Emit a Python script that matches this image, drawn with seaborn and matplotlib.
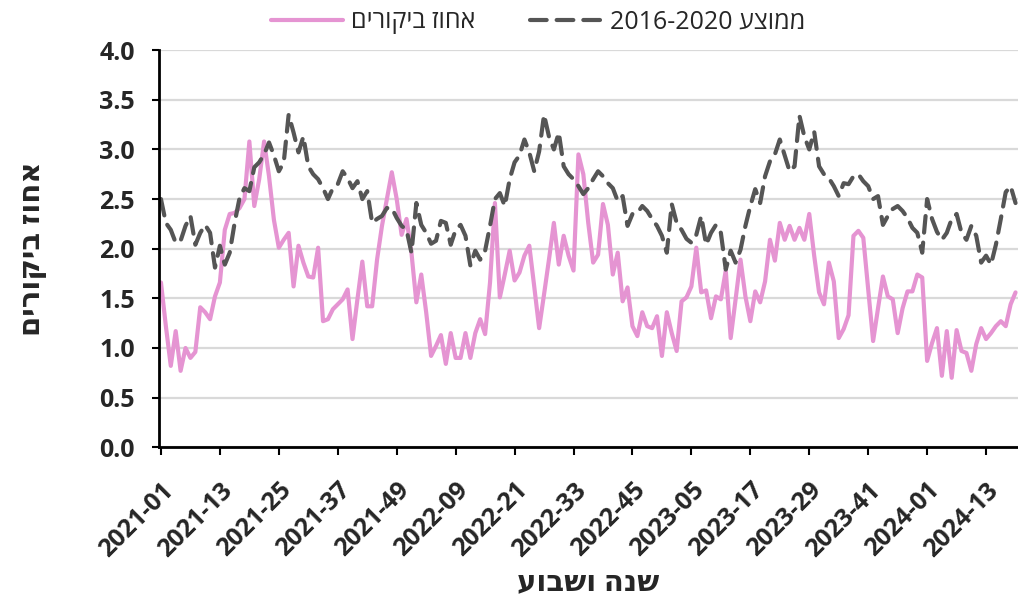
import matplotlib.pyplot as plt
import matplotlib.transforms as mtransforms
import pandas as pd
import seaborn as sns


def rtl(s):
    # matplotlib has no bidi support: flip word order and Hebrew words
    words = s.split()[::-1]
    return " ".join(w[::-1] if any("\u0590" <= c <= "\u05ff" for c in w) else w for w in words)


# weeks 2021-01 .. 2024-19
years = [2021, 2022, 2023, 2024]
weeks_in_year = [52, 52, 52, 19]
week_labels = [f"{y}-{w:02d}" for y, n in zip(years, weeks_in_year) for w in range(1, n + 1)]

tick_labels = ["2021-01", "2021-13", "2021-25", "2021-37", "2021-49", "2022-09", "2022-21",
               "2022-33", "2022-45", "2023-05", "2023-17", "2023-29", "2023-41", "2024-01", "2024-13"]

visits = [
    1.66, 1.22, 0.82, 1.17, 0.77, 1.00, 0.90, 0.96, 1.41, 1.36, 1.29, 1.52,
    1.66, 2.19, 2.35, 2.36, 2.41, 2.50, 3.08, 2.43, 2.70, 3.08, 2.73, 2.29,
    2.01, 2.09, 2.16, 1.62, 2.03, 1.86, 1.72, 1.71, 2.01, 1.27, 1.29, 1.39,
    1.44, 1.49, 1.59, 1.09, 1.49, 1.87, 1.42, 1.42, 1.89, 2.23, 2.50, 2.77,
    2.50, 2.14, 2.30, 1.96, 1.46, 1.74, 1.36, 0.92, 1.02, 1.13, 0.84, 1.15,
    0.90, 0.90, 1.15, 0.90, 1.15, 1.29, 1.14, 1.66, 2.46, 1.51, 1.74, 1.98,
    1.68, 1.76, 1.93, 2.03, 1.62, 1.20, 1.54, 1.89, 2.26, 1.84, 2.13, 1.93,
    1.78, 2.95, 2.75, 2.26, 1.86, 1.94, 2.45, 2.24, 1.74, 1.96, 1.47, 1.61,
    1.22, 1.12, 1.36, 1.22, 1.20, 1.32, 0.92, 1.36, 1.15, 0.97, 1.47, 1.51,
    1.62, 2.01, 1.56, 1.58, 1.30, 1.52, 1.49, 1.78, 1.10, 1.49, 1.89, 1.52,
    1.27, 1.57, 1.46, 1.67, 2.09, 1.88, 2.26, 2.09, 2.23, 2.09, 2.21, 2.09,
    2.35, 1.93, 1.56, 1.44, 1.86, 1.67, 1.10, 1.19, 1.33, 2.13, 2.18, 2.11,
    1.59, 1.07, 1.40, 1.72, 1.52, 1.49, 1.15, 1.40, 1.57, 1.57, 1.74, 1.71,
    0.87, 1.05, 1.20, 0.72, 1.17, 0.70, 1.18, 0.97, 0.95, 0.77, 1.04, 1.20,
    1.09, 1.15, 1.22, 1.27, 1.22, 1.44, 1.56,
]

avg_2016_2020 = [
    2.50, 2.26, 2.19, 2.06, 2.08, 2.23, 2.33, 2.04, 2.16, 2.24, 2.16, 1.81,
    2.03, 1.84, 1.96, 2.26, 2.51, 2.61, 2.58, 2.82, 2.87, 2.95, 3.07, 2.94,
    2.78, 2.87, 3.35, 3.17, 2.97, 3.13, 2.83, 2.75, 2.70, 2.61, 2.50, 2.61,
    2.65, 2.78, 2.71, 2.61, 2.68, 2.50, 2.58, 2.26, 2.30, 2.33, 2.41, 2.41,
    2.31, 2.23, 2.19, 1.96, 2.46, 2.24, 2.16, 2.05, 2.08, 2.28, 2.26, 2.04,
    2.19, 2.24, 2.13, 1.83, 1.98, 1.89, 1.98, 2.23, 2.50, 2.56, 2.43, 2.70,
    2.87, 2.94, 3.10, 2.97, 2.78, 2.98, 3.35, 3.13, 3.00, 3.17, 2.83, 2.75,
    2.70, 2.63, 2.55, 2.61, 2.70, 2.78, 2.73, 2.66, 2.61, 2.48, 2.53, 2.23,
    2.35, 2.36, 2.43, 2.38, 2.30, 2.23, 2.13, 1.96, 2.45, 2.26, 2.19, 2.10,
    2.06, 2.14, 2.33, 2.04, 2.16, 2.24, 2.16, 1.79, 1.98, 1.86, 1.99, 2.23,
    2.43, 2.60, 2.46, 2.73, 2.88, 2.95, 3.10, 2.94, 2.78, 2.83, 3.34, 3.13,
    3.00, 3.18, 2.83, 2.75, 2.71, 2.63, 2.53, 2.66, 2.65, 2.73, 2.75, 2.68,
    2.63, 2.50, 2.53, 2.24, 2.33, 2.40, 2.43, 2.38, 2.31, 2.21, 2.16, 1.96,
    2.50, 2.30, 2.17, 2.09, 2.16, 2.30, 2.35, 2.16, 2.09, 2.23, 2.13, 1.86,
    1.93, 1.84, 2.04, 2.30, 2.57, 2.63, 2.46,
]

df = pd.DataFrame({"week": week_labels, "visits": visits, "avg": avg_2016_2020})
df["pos"] = range(len(df))

sns.set_theme(style="white")
plt.rcParams["font.family"] = ["Open Sans", "DejaVu Sans"]

fig, ax = plt.subplots(figsize=(10.18, 5.97), dpi=100)
fig.subplots_adjust(left=0.1557, right=1.0, top=0.916, bottom=0.2508)

sns.lineplot(data=df, x="pos", y="visits", color="#E594D2", lw=3.0, ax=ax,
             label=rtl("אחוז ביקורים"))
sns.lineplot(data=df, x="pos", y="avg", color="#555555", lw=3.0, ax=ax,
             label=rtl("ממוצע 2016-2020"))
avg_line = ax.lines[1]
avg_line.set_dashes([4, 2.4])
avg_line.set_dash_capstyle("round")
ax.lines[0].set_solid_capstyle("round")

ax.set_xlim(-0.5, len(df) - 0.5)
ax.set_ylim(0, 4)
ax.set_yticks([i * 0.5 for i in range(9)])
ax.set_yticklabels([f"{i * 0.5:.1f}" for i in range(9)], fontweight="bold", fontsize=18)

tick_pos = [week_labels.index(t) for t in tick_labels]
ax.set_xticks(tick_pos)
ax.set_xticklabels(tick_labels, rotation=45, ha="right", rotation_mode="anchor",
                   fontweight="bold", fontsize=18)
shift = mtransforms.ScaledTranslation(0.07, 0, fig.dpi_scale_trans)
for lab in ax.get_xticklabels():
    lab.set_transform(lab.get_transform() + shift)

ax.yaxis.grid(True, color="#d9d9d9", lw=1.6)
ax.set_axisbelow(True)
ax.tick_params(axis="y", direction="out", length=5, width=1.5, color="black", pad=12, left=True)
ax.tick_params(axis="x", direction="out", length=6, width=1.5, color="black", pad=16, bottom=True)
for side in ["top", "right"]:
    ax.spines[side].set_visible(False)
for side in ["left", "bottom"]:
    ax.spines[side].set_color("black")
    ax.spines[side].set_linewidth(2)

ax.set_xlabel(rtl("שנה ושבוע"), fontsize=21, fontweight="bold")
ax.xaxis.set_label_coords(0.5, -0.305)
ax.set_ylabel(rtl("אחוז ביקורים"), fontsize=21, fontweight="bold")
ax.yaxis.set_label_coords(-0.13, 0.5)

handles, labels = ax.get_legend_handles_labels()
ax.get_legend().remove()
fig.legend(handles, labels, loc="center", bbox_to_anchor=(538 / 1018, 1 - 22 / 597),
           ncol=2, frameon=False, fontsize=18, handlelength=2.9, handletextpad=0.3,
           columnspacing=2.2)

plt.savefig("out.png", dpi=100)
